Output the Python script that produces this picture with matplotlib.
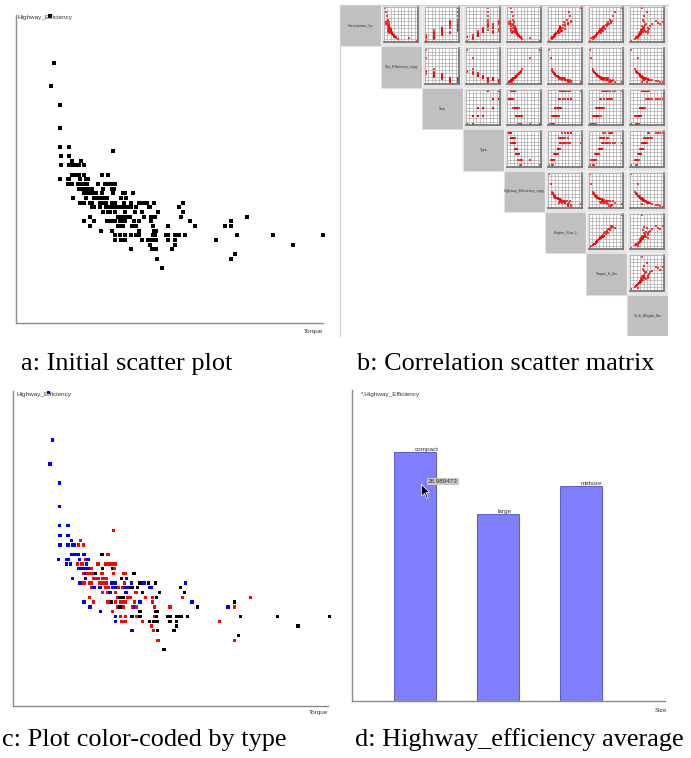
import numpy as np
import matplotlib
matplotlib.use("Agg")
import matplotlib.pyplot as plt
from matplotlib.patches import Rectangle

# ---- panels a / c : Highway_Efficiency vs Torque, coloured by type ----
torque = [
    73, 79, 75, 89, 89,
    89, 102,
    170,
    90, 102,
    107, 121,
    90, 102, 109, 112, 118, 125,
    107, 111, 115, 118, 126, 153, 162,
    88, 100, 102, 119, 129, 132,
    100, 106, 116, 122, 124, 130, 147, 158, 162, 168, 173,
    118, 120, 126, 130, 133, 137, 154, 169, 172,
    125, 128, 131, 134, 136, 140, 143, 153, 170, 185, 188, 201,
    109, 128, 141, 144, 148, 154, 157, 160, 182, 190,
    119, 122, 126, 135, 137, 150, 156, 159, 168, 170, 173, 187, 197, 210, 216, 223, 233, 278,
    138, 141, 150, 159, 162, 169, 171, 176, 178, 184, 187, 190, 193, 198, 206, 225, 227, 271,
    154, 162, 165, 173, 189, 204, 214, 239, 277,
    134, 177, 180, 182, 185, 191, 193, 196, 218, 229, 235, 274, 376,
    126, 140, 161, 164, 167, 173, 181, 183, 188, 202, 210, 229, 288, 352,
    135, 177, 180, 185, 199, 202, 205, 232, 255, 296, 342, 352,
    151, 169, 210, 233, 236,
    173, 181, 188, 198, 205, 210, 232, 235, 252, 255, 265, 268, 272, 281, 361, 416, 494,
    173, 183, 188, 214, 224, 230, 233, 236, 255, 265, 329,
    227, 265, 447,
    198, 230, 236, 261,
    358,
    237, 352,
    246,
]
highway = [
    72, 62, 57, 53, 48,
    44, 44,
    43,
    42, 42,
    41, 41,
    40, 40, 40, 40, 40, 40,
    38, 38, 38, 38, 38, 38, 38,
    37, 37, 37, 37, 37, 37,
    36, 36, 36, 36, 36, 36, 36, 36, 36, 36, 36,
    35, 35, 35, 35, 35, 35, 35, 35, 35,
    34, 34, 34, 34, 34, 34, 34, 34, 34, 34, 34, 34,
    33, 33, 33, 33, 33, 33, 33, 33, 33, 33,
    32, 32, 32, 32, 32, 32, 32, 32, 32, 32, 32, 32, 32, 32, 32, 32, 32, 32,
    31, 31, 31, 31, 31, 31, 31, 31, 31, 31, 31, 31, 31, 31, 31, 31, 31, 31,
    30, 30, 30, 30, 30, 30, 30, 30, 30,
    29, 29, 29, 29, 29, 29, 29, 29, 29, 29, 29, 29, 29,
    28, 28, 28, 28, 28, 28, 28, 28, 28, 28, 28, 28, 28, 28,
    27, 27, 27, 27, 27, 27, 27, 27, 27, 27, 27, 27,
    26, 26, 26, 26, 26,
    25, 25, 25, 25, 25, 25, 25, 25, 25, 25, 25, 25, 25, 25, 25, 25, 25,
    24, 24, 24, 24, 24, 24, 24, 24, 24, 24, 24,
    23, 23, 23,
    22, 22, 22, 22,
    21,
    20, 20,
    18,
]
car_type = list(
    "AAAAA" "AA" "B" "AA" "AB" "AAAABB" "AAAAACB" "AAAABA"
    "AABBBABBBBB" "AAAAABCCB" "BABBBBCBBBBC" "AABBBBBBCA"
    "AABBBBBBAAABACACCA" "BAABBAACBBAAACCAAC" "BBABABCCC"
    "BBCCCBBBBBCBB" "ABBBCBBBBBABAC" "ABCBBABBBCAB" "ABCCC"
    "ABBCBCBCCCCCCCCCC" "ABBBCCCCCCB" "BCC" "ABCC" "C" "BB" "C"
)
type_colors = {"A": "#0000ff", "B": "#ff0000", "C": "#000000"}

# ---- panel d : average Highway_Efficiency by Size ----
sizes = ["compact", "large", "midsize"]
size_avg = [28.989473, 21.70, 25.03]

# ---- panel b : small sample for the scatter matrix ----
matrix_vars = ["Horsepower_hp", "City_Efficiency_mpg", "Size", "Type",
               "Highway_Efficiency_mpg", "Engine_Size_L", "Torque_ft_lbs",
               "Curb_Weight_lbs"]
hp = [73, 110, 103, 115, 130, 140, 160, 155, 170, 200, 210, 225, 240, 180, 190, 260,
      280, 300, 220, 245, 275, 300, 340, 190, 210, 320, 350, 400, 450, 500, 120, 130,
      150, 175, 185, 230, 250, 200, 235, 180, 305, 295, 325, 145, 165, 195, 265, 215]
city = [60, 48, 32, 28, 26, 26, 24, 25, 22, 21, 20, 20, 19, 21, 22, 18,
        18, 17, 19, 17, 16, 15, 14, 18, 16, 18, 16, 15, 13, 12, 29, 27,
        24, 22, 20, 19, 18, 17, 16, 17, 14, 13, 12, 25, 23, 21, 18, 20]
size_code = [0, 0, 1, 1, 1, 1, 1, 2, 2, 2, 2, 2, 2, 1, 1, 4,
             4, 4, 4, 3, 3, 3, 3, 3, 4, 4, 4, 4, 4, 4, 0, 0,
             0, 1, 2, 2, 2, 2, 4, 3, 3, 3, 3, 1, 2, 2, 4, 1]
type_code = [0, 1, 1, 1, 1, 2, 2, 2, 2, 2, 3, 3, 3, 2, 3, 4,
             4, 4, 4, 5, 5, 5, 6, 5, 6, 4, 4, 4, 4, 4, 0, 0,
             1, 2, 3, 3, 5, 5, 6, 5, 6, 6, 6, 2, 2, 3, 4, 3]
hwy = [66, 51, 38, 37, 34, 33, 32, 33, 30, 29, 28, 28, 27, 29, 30, 25,
       24, 24, 26, 23, 21, 20, 18, 23, 21, 25, 24, 24, 22, 20, 36, 35,
       31, 30, 27, 27, 26, 24, 21, 22, 19, 17, 16, 32, 30, 29, 26, 28]
engine = [1.0, 1.5, 1.6, 1.8, 2.0, 2.0, 2.4, 2.4, 2.5, 3.0, 3.0, 3.2, 3.5, 2.7, 3.0, 3.5,
          4.2, 4.6, 3.8, 4.3, 4.7, 5.3, 6.0, 3.4, 4.0, 4.4, 5.0, 5.7, 5.5, 8.3, 1.6, 1.8,
          2.2, 2.5, 3.0, 3.5, 3.8, 3.8, 4.6, 3.3, 5.4, 5.3, 6.0, 2.3, 2.4, 3.0, 3.6, 3.2]
torq = [66, 82, 107, 120, 135, 136, 160, 155, 165, 200, 205, 215, 240, 180, 190, 250,
        300, 310, 230, 260, 310, 330, 380, 210, 250, 330, 350, 400, 430, 525, 112, 125,
        150, 170, 200, 240, 270, 230, 280, 220, 365, 335, 375, 152, 165, 195, 260, 220]
weight = [1850, 2890, 2370, 2580, 2700, 2800, 3000, 3050, 3200, 3300, 3400, 3450, 3600, 3250, 3100, 3700,
          3900, 4000, 3650, 4200, 4500, 4800, 5400, 4000, 4300, 3650, 3500, 3700, 4100, 3400, 2500, 2650,
          2900, 3150, 3500, 3550, 3750, 3900, 4450, 4250, 5700, 6000, 6400, 3000, 3150, 3350, 3400, 3300]
matrix_data = [hp, city, size_code, type_code, hwy, engine, torq, weight]

W, H = 691, 758
fig = plt.figure(figsize=(W / 100, H / 100), dpi=100)
fig.patch.set_facecolor("white")


def px_axes(left, top, right, bottom):
    return fig.add_axes([left / W, 1 - bottom / H, (right - left) / W, (bottom - top) / H])


def plain_axes(ax):
    for s in ["top", "right"]:
        ax.spines[s].set_visible(False)
    for s in ["left", "bottom"]:
        ax.spines[s].set_color("#8a8a8a")
        ax.spines[s].set_linewidth(1.0)
    ax.set_xticks([])
    ax.set_yticks([])


small = dict(fontsize=4.6, family="Liberation Sans", color="#333333")

# a: initial scatter plot
ax_a = px_axes(15.7, 15, 322.7, 322.7)
plain_axes(ax_a)
ax_a.scatter(torque, highway, s=5, marker="s", c="black", linewidths=0, clip_on=False)
ax_a.set_xlim(20, 493)
ax_a.set_ylim(6.3, 72.2)
ax_a.text(0.006, 0.992, "Highway_Efficiency", transform=ax_a.transAxes, ha="left", va="center", **small)
ax_a.text(1.0, -0.027, "Torque", transform=ax_a.transAxes, ha="right", va="center", **small)

# c: colour coded by type
ax_c = px_axes(13.3, 391, 328.3, 706)
plain_axes(ax_c)
cols = [type_colors[t] for t in car_type]
ax_c.scatter(torque, highway, s=5.5, marker="s", c=cols, linewidths=0, clip_on=False)
ax_c.set_xlim(20, 492.5)
ax_c.set_ylim(6.2, 72.3)
ax_c.text(0.01, 0.99, "Highway_Efficiency", transform=ax_c.transAxes, ha="left", va="center", **small)
ax_c.text(1.0, -0.02, "Torque", transform=ax_c.transAxes, ha="right", va="center", **small)

# d: bar chart of averages
ax_d = px_axes(352.3, 390, 665, 700.7)
plain_axes(ax_d)
pos = np.arange(1, len(sizes) + 1)
ax_d.bar(pos, size_avg, width=0.51, color="#8080ff", edgecolor="#5a5ad0", linewidth=0.7)
for p, lab, v in zip(pos, sizes, size_avg):
    ax_d.text(p - 0.01, v, lab, ha="left", va="bottom", **small)
ax_d.set_xlim(0.24, 4.01)
ax_d.set_ylim(0, 36.2)
ax_d.text(0.027, 0.984, "*,Highway_Efficiency", transform=ax_d.transAxes, ha="left", va="center", **small)
ax_d.text(1.006, -0.03, "Size", transform=ax_d.transAxes, ha="right", va="center", **small)
ax_d.text(pos[0] + 0.155, size_avg[0] - 3.4, f"{size_avg[0]:.6f}", ha="left", va="center",
          bbox=dict(boxstyle="square,pad=0.15", fc="#c8c8c8", ec="none"), **small)
cursor = [(0, 0), (0, -16), (4, -12), (7, -19), (9, -18), (6, -11), (11, -11), (0, 0)]
ax_d.plot([pos[0] + 0.072], [size_avg[0] - 3.7], marker=cursor, markersize=20,
          color="black", markeredgecolor="white", markeredgewidth=0.5)

# b: correlation scatter matrix
n = len(matrix_vars)
m_left, m_top, cw, ch = 340, 5, 41.0, 41.4
bg = px_axes(m_left, m_top, m_left + n * cw, m_top + n * ch)
bg.set_xlim(0, n)
bg.set_ylim(n, 0)
bg.set_xticks([])
bg.set_yticks([])
for s in ["right", "bottom"]:
    bg.spines[s].set_visible(False)
for s in ["left", "top"]:
    bg.spines[s].set_color("#c9cdd8")
    bg.spines[s].set_linewidth(0.8)
for i in range(n):
    for j in range(i, n):
        if i == j:
            bg.add_patch(Rectangle((j, i), 1, 1, fc="#c0c0c0", ec="#dde1ea", lw=0.8))
            bg.text(j + 0.5, i + 0.5, matrix_vars[i], ha="center", va="center",
                    fontsize=2.6, family="Liberation Sans", color="#333333")
        else:
            bg.add_patch(Rectangle((j, i), 1, 1, fc="#e4e4e4", ec="#f4f4f4", lw=0.8))
            x0 = m_left + j * cw
            y0 = m_top + i * ch
            mini = px_axes(x0 + 3, y0 + 2, x0 + cw - 4, y0 + ch - 4)
            xs, ys = matrix_data[j], matrix_data[i]
            mini.scatter(xs, ys, s=1.6, marker="s", c="#ff0000", alpha=0.75, linewidths=0)
            xl = (min(xs), max(xs))
            yl = (min(ys), max(ys))
            dx = (xl[1] - xl[0]) * 0.04
            dy = (yl[1] - yl[0]) * 0.04
            mini.set_xlim(xl[0] - dx, xl[1] + dx)
            mini.set_ylim(yl[0] - dy, yl[1] + dy)
            mini.set_xticks(np.linspace(xl[0] - dx, xl[1] + dx, 11))
            mini.set_yticks(np.linspace(yl[0] - dy, yl[1] + dy, 11))
            mini.tick_params(length=0, labelbottom=False, labelleft=False)
            mini.grid(True, color="#9c9c9c", linewidth=0.4)
            mini.set_axisbelow(True)
            for s in ["left", "top"]:
                mini.spines[s].set_color("#b0b0b0")
                mini.spines[s].set_linewidth(0.5)
            for s in ["right", "bottom"]:
                mini.spines[s].set_color("#6e6e6e")
                mini.spines[s].set_linewidth(1.2)

# captions
cap = dict(fontsize=18.9, family="Liberation Serif", color="black", va="baseline", ha="center")
fig.text(127 / W, 1 - 370 / H, "a: Initial scatter plot", **cap)
fig.text(506 / W, 1 - 370 / H, "b: Correlation scatter matrix", **cap)
fig.text(144 / W, 1 - 746 / H, "c: Plot color-coded by type", **cap)
fig.text(519.5 / W, 1 - 746 / H, "d: Highway_efficiency average", **cap)

fig.savefig("out.png", dpi=100)
plt.close(fig)
